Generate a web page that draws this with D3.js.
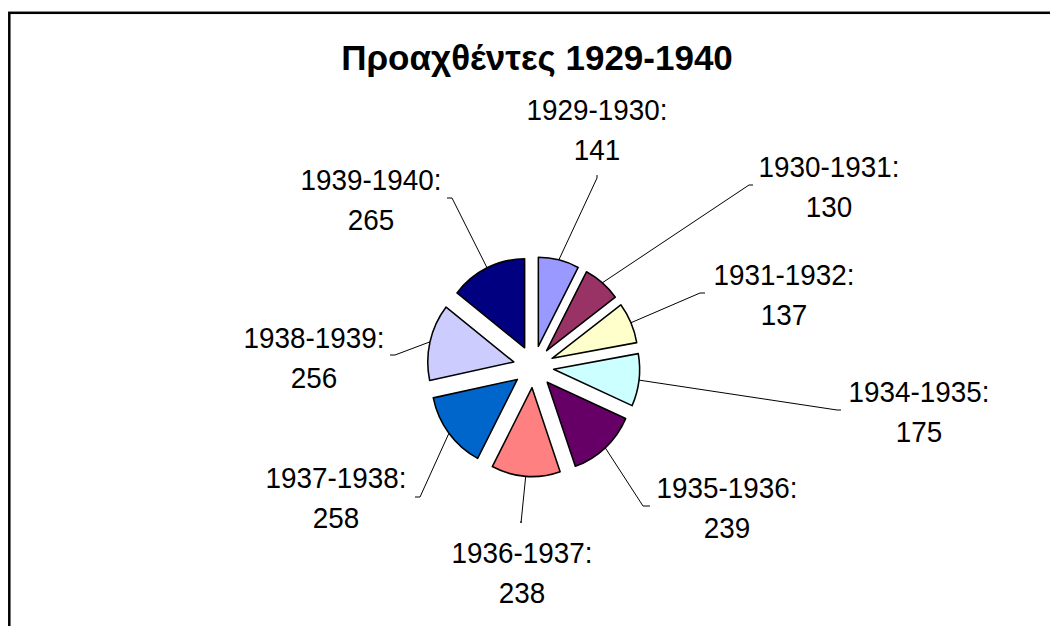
<!DOCTYPE html>
<html><head><meta charset="utf-8">
<script src="https://cdn.jsdelivr.net/npm/d3@7"></script>
<style>html,body{margin:0;padding:0;background:#fff;}svg{display:block;}</style>
</head><body>
<svg id="c" width="1050" height="626"></svg>
<script>
const title = "Προαχθέντες 1929-1940";
const categories = ["1929-1930","1930-1931","1931-1932","1934-1935","1935-1936","1936-1937","1937-1938","1938-1939","1939-1940"];
const values = [141,130,137,175,239,238,258,256,265];
const colors = ["#9999FF","#993366","#FFFFCC","#CCFFFF","#660066","#FF8080","#0066CC","#CCCCFF","#000080"];
// label layout: text centre x, first baseline y, leader elbow and end
const labelLayout = [
  {x:597, y:120, elbow:[597,178], end:[597,175]},
  {x:829, y:177, elbow:[749,185], end:[753,185]},
  {x:784, y:285, elbow:[700,293], end:[705,293]},
  {x:919, y:402, elbow:[837,410], end:[841,410]},
  {x:727, y:498, elbow:[643,506], end:[650,506]},
  {x:522, y:563, elbow:[521,523], end:[521,521]},
  {x:336, y:488, elbow:[420,497], end:[415,497]},
  {x:314, y:348, elbow:[395,355], end:[390,355]},
  {x:371, y:190, elbow:[452,198], end:[447,198]}
];

const svg = d3.select("#c");
svg.append("rect").attr("x",9.3).attr("y",12.8).attr("width",1100).attr("height",700)
  .attr("fill","none").attr("stroke","#000").attr("stroke-width",2.5);

svg.append("text").attr("text-anchor","middle")
  .attr("transform","translate(537,69.5)")
  .attr("font-family","'Liberation Sans', Arial, sans-serif").attr("font-weight","bold")
  .attr("font-size",35).text(title);

const cx = 533.5, cy = 366.7, r = 89, explode = 21, sx = 0.966;
const pie = d3.pie().sort(null).value(d=>d);
const arcs = pie(values);
const arc = d3.arc().innerRadius(0).outerRadius(r);

const g = svg.append("g").attr("transform",`translate(${cx},${cy}) scale(${sx},1)`);
g.selectAll("path").data(arcs).join("path")
  .attr("transform", d => {
    const a = (d.startAngle+d.endAngle)/2;
    return `translate(${explode*Math.sin(a)},${-explode*Math.cos(a)})`;
  })
  .attr("d", arc)
  .attr("fill",(d,i)=>colors[i])
  .attr("stroke","#000").attr("stroke-width",1.6).attr("stroke-linejoin","round");

// leaders and labels
arcs.forEach((d,i)=>{
  const a = (d.startAngle+d.endAngle)/2;
  const p = [cx + (r+explode)*Math.sin(a)*sx, cy - (r+explode)*Math.cos(a)];
  const L = labelLayout[i];
  svg.append("path").attr("d", d3.line()([p, L.elbow, L.end]))
    .attr("fill","none").attr("stroke","#000").attr("stroke-width",1);
  const t = svg.append("text").attr("text-anchor","middle")
    .attr("font-family","'Liberation Sans', Arial, sans-serif").attr("font-size",29)
    .attr("transform",`translate(${L.x},${L.y}) scale(0.96,1)`);
  t.append("tspan").attr("x",0).attr("y",0).text(categories[i]+":");
  t.append("tspan").attr("x",0).attr("y",40).text(values[i]);
});
</script>
</body></html>
